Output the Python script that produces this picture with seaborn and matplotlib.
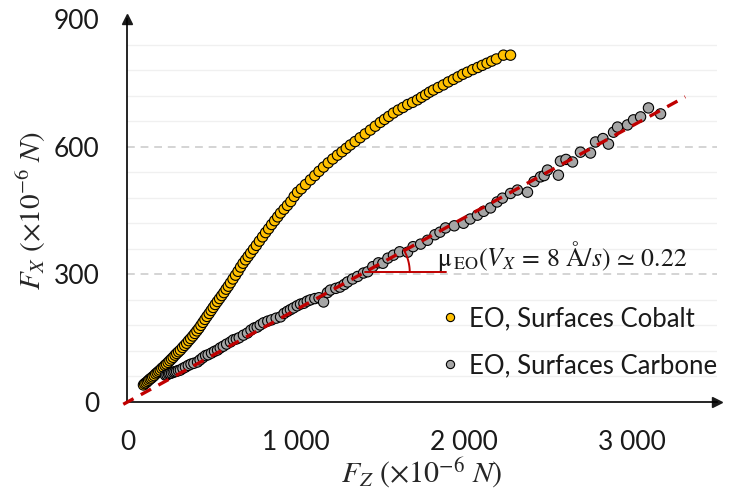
import numpy as np
import pandas as pd
import seaborn as sns
import matplotlib
matplotlib.use("Agg")
import matplotlib.pyplot as plt
from matplotlib.ticker import MultipleLocator, FixedLocator

sns.set_theme(style="white")
plt.rcParams['font.family'] = ['Lato', 'DejaVu Sans']
plt.rcParams['mathtext.fontset'] = 'stix'

# Cobalt surfaces
cobalt_fz = [95, 102, 110, 118, 126, 134, 142, 150, 159, 168, 177, 186, 195, 204, 214, 223,
             232, 242, 252, 262, 272, 283, 293, 304, 315, 328, 340, 352, 364, 376, 389, 401,
             413, 425, 437, 449, 461, 473, 486, 498, 510, 522, 535, 548, 561, 574, 587, 600,
             613, 628, 643, 658, 673, 688, 703, 718, 733, 750, 767, 785, 804, 822, 840, 858,
             876, 894, 911, 932, 952, 972, 992, 1012, 1035, 1060, 1089, 1115, 1140, 1167, 1195,
             1222, 1250, 1277, 1302, 1327, 1355, 1385, 1415, 1446, 1475, 1505, 1530, 1555, 1583,
             1612, 1640, 1668, 1697, 1726, 1750, 1775, 1798, 1821, 1850, 1880, 1910, 1940, 1968,
             1996, 2024, 2055, 2085, 2112, 2140, 2168, 2196, 2238, 2280]
cobalt_fx = [40, 43, 45, 48, 51, 54, 56, 59, 62, 66, 69, 72, 75, 79, 82, 86,
             89, 93, 97, 101, 105, 110, 114, 118, 122, 128, 133, 138, 144, 149, 155, 161,
             167, 173, 180, 187, 194, 201, 208, 215, 222, 229, 236, 243, 250, 257, 265, 272,
             280, 289, 298, 307, 317, 326, 334, 342, 350, 359, 368, 378, 388, 398, 407, 417,
             426, 435, 444, 453, 462, 471, 483, 493, 501, 511, 522, 532, 542, 552, 562,
             571, 580, 588, 596, 604, 612, 621, 630, 639, 648, 657, 664, 671, 679,
             686, 692, 699, 704, 710, 716, 722, 728, 733, 739, 745, 752, 758, 764,
             770, 775, 781, 786, 791, 796, 801, 806, 815, 815]

# Carbone surfaces
carbone_fz = [226, 235, 244, 252, 262, 272, 282, 292, 303, 315, 330, 345, 362, 378, 395, 417,
              432, 448, 465, 480, 500, 518, 536, 552, 570, 590, 613, 630, 648, 665, 690, 714,
              735, 755, 772, 790, 810, 835, 858, 885, 911, 932, 952, 970, 988, 1010, 1030, 1050,
              1070, 1089, 1115, 1140, 1167, 1190, 1208, 1240, 1265, 1290, 1310, 1340, 1370, 1405,
              1430, 1460, 1494, 1520, 1550, 1583, 1620, 1667, 1700, 1745, 1786, 1830, 1860, 1893,
              1945, 2000, 2040, 2083, 2120, 2161, 2200, 2232, 2280, 2321, 2381, 2420, 2458, 2480,
              2500, 2565, 2577, 2610, 2649, 2696, 2756, 2786, 2830, 2863, 2893, 2917, 2976, 3012,
              3054, 3101, 3173]
carbone_fx = [63, 64, 66, 67, 68, 70, 71, 72, 74, 75, 79, 82, 86, 89, 91, 94,
              99, 104, 109, 111, 115, 119, 122, 127, 131, 136, 141, 146, 148, 151, 157, 162,
              169, 174, 176, 181, 186, 190, 193, 197, 200, 208, 213, 217, 221, 226, 230, 232,
              237, 240, 243, 245, 235, 257, 263, 267, 270, 276, 282, 289, 295, 303,
              306, 318, 327, 326, 338, 345, 353, 352, 365, 371, 380, 393, 399, 409,
              414, 420, 430, 439, 448, 456, 470, 479, 490, 498, 493, 518, 529, 532,
              545, 533, 566, 570, 564, 587, 585, 611, 619, 606, 634, 646, 651, 663,
              670, 691, 677]

series = ["EO, Surfaces Cobalt", "EO, Surfaces Carbone"]
colors = ["#FFC000", "#A5A5A5"]

mu = 0.216          # slope of the fit
fit_range = [-25, 3320]

df = pd.concat([
    pd.DataFrame({"fz": cobalt_fz, "fx": cobalt_fx, "serie": series[0]}),
    pd.DataFrame({"fz": carbone_fz, "fx": carbone_fx, "serie": series[1]}),
])

fig = plt.figure(figsize=(7.53, 4.93), dpi=100)
ax = fig.add_axes([0.1693, 0.1846, 0.7829, 0.7769])

# grid
ax.set_xlim(0, 3509)
ax.set_ylim(0, 900)
ax.yaxis.set_major_locator(FixedLocator([0, 300, 600, 900]))
ax.yaxis.set_minor_locator(MultipleLocator(60))
ax.grid(False)
for v in np.arange(60, 900, 60):
    if v % 300 == 0:
        ax.axhline(v, color="#d4d4d4", lw=1.4, ls=(0, (4, 3)), zorder=0)
    else:
        ax.axhline(v, color="#f0f0f0", lw=1.0, zorder=0)

sns.scatterplot(data=df, x="fz", y="fx", hue="serie", palette=dict(zip(series, colors)),
                s=55, edgecolor="black", linewidth=0.8, ax=ax, zorder=3, clip_on=False)

# fit line (drawn over the markers)
fx_fit = [mu * v for v in fit_range]
ax.plot(fit_range, fx_fit, color="#C00000", lw=2.4, ls=(0, (3.5, 2.5)), zorder=5, clip_on=False)

# angle marker
cx, cy = 305 / mu, 305
ax.plot([cx, 1893], [cy, cy], color="#C00000", lw=1.4, zorder=4)
rx, ry = 268, 105.5
t = np.linspace(0, np.arctan(mu * rx / ry) + 0.02, 30)
ax.plot(cx + rx * np.cos(t), cy + ry * np.sin(t), color="#C00000", lw=1.4, zorder=4)
ax.text(1842, 343, r'$\mathrm{\mu}_{\,\mathrm{EO}}(V_X\,=\,8\ \mathrm{\AA}/s)\,\simeq\,0.22$',
        fontsize=18.5, va="center", ha="left", color="#1a1a1a")

# axes style
for s in ["top", "right"]:
    ax.spines[s].set_visible(False)
for s in ["left", "bottom"]:
    ax.spines[s].set_color("black")
    ax.spines[s].set_linewidth(1.2)
ax.plot(1, 0, ">k", ms=7, transform=ax.transAxes, clip_on=False)
ax.plot(0, 1, "^k", ms=7, transform=ax.transAxes, clip_on=False)

ax.set_xticks([0, 1000, 2000, 3000])
ax.set_xticklabels(["0", "1 000", "2 000", "3 000"])
ax.set_yticklabels(["0", "300", "600", "900"])
ax.tick_params(axis="both", which="both", length=0, labelsize=19, pad=20, colors="#1a1a1a")

ax.set_xlabel(r'$F_Z\ (\times 10^{-6}\ N)$', fontsize=21.5, labelpad=0)
ax.set_ylabel(r'$F_X\ (\times 10^{-6}\ N)$', fontsize=21, labelpad=4)

handles, labels = ax.get_legend_handles_labels()
ax.legend(handles, labels, loc="center left", bbox_to_anchor=(0.53, 0.156), frameon=False,
          fontsize=18.5, borderpad=0, borderaxespad=0, handlelength=0.8, handletextpad=0.35,
          labelspacing=0.85, markerscale=0.8, labelcolor="#1a1a1a")

fig.savefig("out.png", dpi=100)
